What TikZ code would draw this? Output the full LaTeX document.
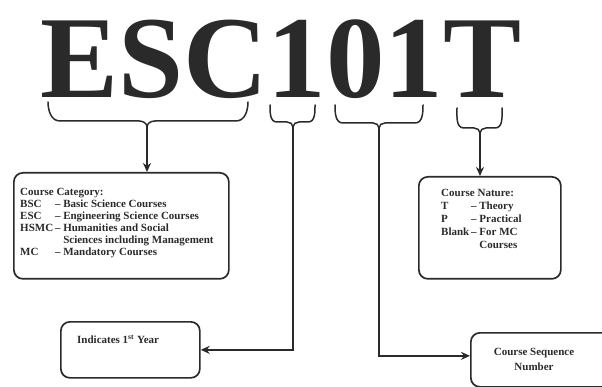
\documentclass[tikz,border=0pt]{standalone}
\usepackage{fontspec}
\setmainfont{Liberation Serif}
\usetikzlibrary{arrows.meta}
\definecolor{ink}{HTML}{2A2A2A}
\begin{document}
\begin{tikzpicture}[x=1pt,y=-1pt,
  box/.style={draw=ink, line width=1.7pt, rounded corners=9pt, inner sep=0pt, anchor=north west},
  txt/.style={font=\bfseries\fontsize{11}{12}\selectfont, text=ink, inner sep=0pt},
  bracepath/.style={draw=ink, line width=1.5pt, line cap=round, line join=round},
  conn/.style={draw=ink, line width=1.6pt, -{Stealth[length=9pt,width=8pt]}},
]
\useasboundingbox (0,0) rectangle (602,387);

% title
\node[anchor=base west, inner sep=0pt, text=ink,
      font=\bfseries\fontsize{117}{117}\selectfont] (title) at (40,98) {ESC101T};

% braces
\draw[bracepath] (48,102) to[out=-90,in=180] (60,121) -- (139,121)
  to[out=0,in=90] (147,127) to[out=90,in=180] (155,121) -- (236,121)
  to[out=0,in=-90] (248,102);
\coordinate (tipE) at (147,127);

\draw[bracepath] (270,105) to[out=-90,in=180] (277,122) -- (287,122)
  to[out=0,in=90] (293,127) to[out=90,in=180] (299,122) -- (308,122)
  to[out=0,in=-90] (315,105);
\coordinate (tipA) at (293,127);

\draw[bracepath] (335,105) to[out=-90,in=180] (343,123) -- (373,123)
  to[out=0,in=90] (379,128) to[out=90,in=180] (385,123) -- (415,123)
  to[out=0,in=-90] (423,105);
\coordinate (tipB) at (379,128);

\draw[bracepath] (457,108) to[out=-90,in=180] (464,128) -- (474,128)
  to[out=0,in=90] (480,133) to[out=90,in=180] (486,128) -- (495,128)
  to[out=0,in=-90] (502,108);
\coordinate (tipT) at (480,133);

% boxes
\node[box, minimum width=215pt, minimum height=106pt] (cat) at (13,172) {};
\node[box, minimum width=142pt, minimum height=102pt] (nat) at (418,176) {};
\node[box, minimum width=139pt, minimum height=56pt] (yr) at (60,321) {};
\node[box, minimum width=160pt, minimum height=54pt] (seq) at (470,332) {};

% texts
\node[txt, anchor=north west] (cattext) at (20,187) {%
  \begin{tabular}{@{}l@{\,}l@{}}
  \multicolumn{2}{@{}l@{}}{Course Category:}\\
  BSC & – Basic Science Courses\\
  ESC & – Engineering Science Courses\\
  HSMC & – Humanities and Social\\
       & \phantom{– }Sciences including Management\\
  MC & – Mandatory Courses
  \end{tabular}};

\node[txt, font=\bfseries\fontsize{11}{13}\selectfont, anchor=north west] (nattext) at (441,187) {%
  \begin{tabular}{@{}l@{\,}l@{}}
  \multicolumn{2}{@{}l@{}}{Course Nature:}\\
  T & – Theory\\
  P & – Practical\\
  Blank & – For MC\\
        & \phantom{– }Courses
  \end{tabular}};

\node[txt, anchor=north west] (yrtext) at (77,335) {Indicates 1\textsuperscript{st} Year};

\node[txt, font=\bfseries\fontsize{11}{15}\selectfont, align=center] (seqtext) at (534,359) {Course Sequence\\Number};

% connectors
\draw[conn] (tipE) -- (tipE |- cat.north);
\draw[conn] (tipT) -- (tipT |- nat.north);
\draw[conn] (tipA) |- (yr.east);
\draw[conn] (tipB) |- ([yshift=4pt]seq.west);
\end{tikzpicture}
\end{document}
